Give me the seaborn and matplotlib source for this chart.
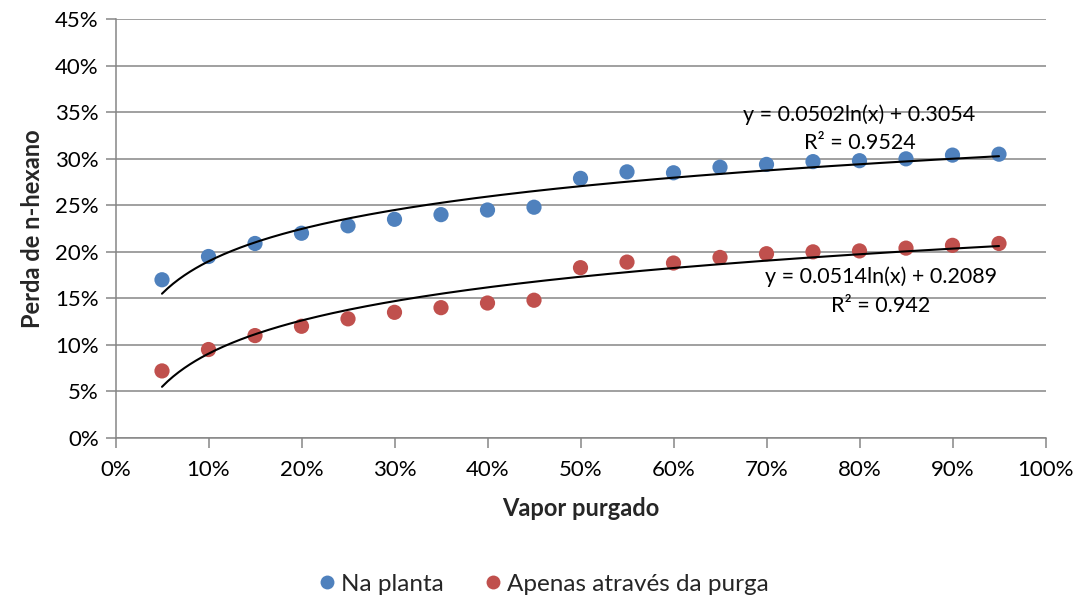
import numpy as np
import pandas as pd
import matplotlib
matplotlib.use("Agg")
import matplotlib.pyplot as plt
from matplotlib.ticker import PercentFormatter, MultipleLocator
import seaborn as sns

# Fraction of vapour purged
vapor_purgado = [0.05, 0.10, 0.15, 0.20, 0.25, 0.30, 0.35, 0.40, 0.45, 0.50,
                 0.55, 0.60, 0.65, 0.70, 0.75, 0.80, 0.85, 0.90, 0.95]

# n-hexane loss, whole plant
perda_planta = [0.170, 0.195, 0.209, 0.220, 0.228, 0.235, 0.240, 0.245, 0.248, 0.279,
                0.286, 0.285, 0.291, 0.294, 0.297, 0.298, 0.300, 0.304, 0.305]

# n-hexane loss, through the purge only
perda_purga = [0.072, 0.095, 0.110, 0.120, 0.128, 0.135, 0.140, 0.145, 0.148, 0.183,
               0.189, 0.188, 0.194, 0.198, 0.200, 0.201, 0.204, 0.207, 0.209]

series_names = ["Na planta", "Apenas através da purga"]
series_colors = ["#4F81BD", "#C0504D"]

# Logarithmic trendlines y = a*ln(x) + b with their R²
trend_a = [0.0502, 0.0514]
trend_b = [0.3054, 0.2089]
trend_r2 = ["0.9524", "0.942"]

df = pd.DataFrame({
    "Vapor purgado": vapor_purgado * 2,
    "Perda de n-hexano": perda_planta + perda_purga,
    "Série": [series_names[0]] * len(vapor_purgado) + [series_names[1]] * len(vapor_purgado),
})

sns.set_theme(style="white")
plt.rcParams["font.family"] = ["Lato", "DejaVu Sans"]

fig, ax = plt.subplots(figsize=(10.81, 6.01), dpi=100)
fig.subplots_adjust(left=115.5 / 1081, right=1045.5 / 1081,
                    top=1 - 19.3 / 601, bottom=1 - 437.9 / 601)

grid_color = "#868686"
ax.set_axisbelow(True)
ax.yaxis.grid(True, color=grid_color, linewidth=1.1)
ax.xaxis.grid(False)

sns.scatterplot(data=df, x="Vapor purgado", y="Perda de n-hexano", hue="Série",
                palette=series_colors, s=120, edgecolor="none", ax=ax, zorder=3)

# Trendlines over the range of the data
xs = np.linspace(min(vapor_purgado), max(vapor_purgado), 300)
for a, b in zip(trend_a, trend_b):
    ax.plot(xs, a * np.log(xs) + b, color="black", linewidth=1.5, zorder=4)

tick_size = 16
eq_size = 15.5
ax.text(0.80, 0.347, f"y = {trend_a[0]}ln(x) + {trend_b[0]}", ha="center", va="center",
        fontsize=eq_size, color="black")
ax.text(0.80, 0.317, f"R² = {trend_r2[0]}", ha="center", va="center",
        fontsize=eq_size, color="black")
ax.text(0.823, 0.173, f"y = {trend_a[1]}ln(x) + {trend_b[1]}", ha="center", va="center",
        fontsize=eq_size, color="black")
ax.text(0.823, 0.1418, f"R² = {trend_r2[1]}", ha="center", va="center",
        fontsize=eq_size, color="black")

ax.set_xlim(0, 1.0)
ax.set_ylim(0, 0.45)
ax.xaxis.set_major_locator(MultipleLocator(0.10))
ax.yaxis.set_major_locator(MultipleLocator(0.05))
ax.xaxis.set_major_formatter(PercentFormatter(1.0, decimals=0))
ax.yaxis.set_major_formatter(PercentFormatter(1.0, decimals=0))

for side in ["top", "right"]:
    ax.spines[side].set_visible(False)
for side in ["left", "bottom"]:
    ax.spines[side].set_color(grid_color)
    ax.spines[side].set_linewidth(1.1)

ax.tick_params(axis="both", which="major", direction="out", length=7, width=1.1,
               color=grid_color, labelsize=tick_size, labelcolor="black", pad=5)
ax.tick_params(axis="x", pad=9)
ax.tick_params(axis="y", left=True)
ax.tick_params(axis="x", bottom=True)

ax.set_xlabel("Vapor purgado", fontsize=17, fontweight="bold", labelpad=12)
ax.set_ylabel("Perda de n-hexano", fontsize=17, fontweight="bold", labelpad=8)

ax.legend_.remove()
handles = [plt.Line2D([], [], marker="o", linestyle="none", markersize=10,
                      markerfacecolor=c, markeredgecolor="none") for c in series_colors]
fig.legend(handles, series_names, loc="center", bbox_to_anchor=(0.5, 1 - 584 / 601),
           ncol=2, frameon=False, fontsize=17.5, handletextpad=0.0,
           columnspacing=1.4, handlelength=1.2)

fig.savefig("out.png", dpi=100)
